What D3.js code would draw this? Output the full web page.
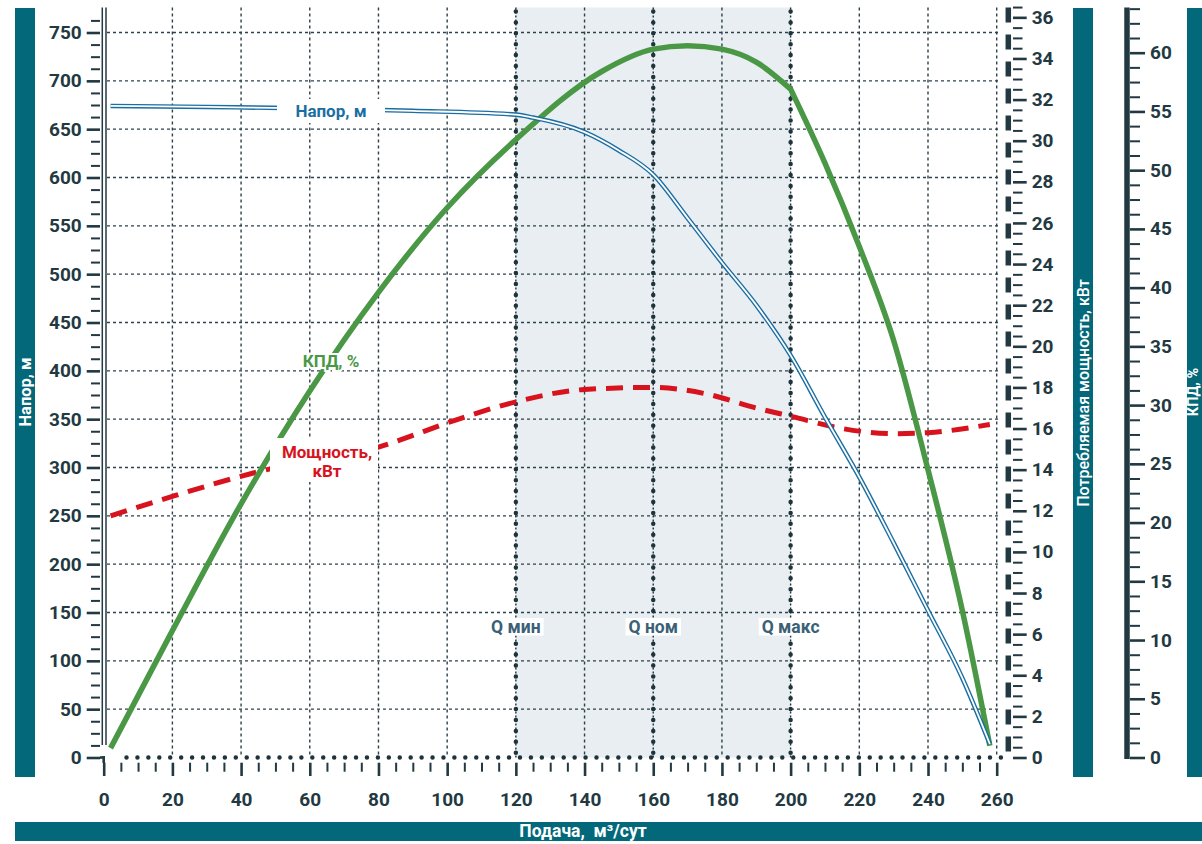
<!DOCTYPE html>
<html>
<head>
<meta charset="utf-8">
<script src="https://cdn.jsdelivr.net/npm/d3@7"></script>
<style>
  body { margin: 0; background: #fff; }
  svg { display: block; font-family: Roboto, "Noto Sans", sans-serif; }
</style>
</head>
<body>
<svg id="chart" width="1202" height="844"></svg>
<script>
// Pump performance curves: head, power and efficiency versus flow rate (m³/day)

// Head curve, m
const headFlow   = [2, 30, 60, 90, 120, 125, 140, 150, 160, 170, 180, 190, 200, 210, 220, 230, 240, 250, 258];
const headValues = [674, 673, 671.5, 669, 665, 662, 647, 628, 603, 558, 512, 468, 416, 352, 290, 222, 152, 82, 14];

// Consumed power, kW
const powerFlow   = [2, 20, 45, 80, 104, 120, 140, 160, 175, 190, 200, 215, 230, 240, 258];
const powerValues = [11.75, 12.7, 13.9, 15.1, 16.5, 17.3, 17.9, 18.0, 17.7, 17.0, 16.6, 16.0, 15.75, 15.8, 16.2];

// Efficiency, %
const effFlow   = [2, 20, 40, 60, 80, 100, 120, 145, 160, 170, 180, 190, 200, 210, 220, 230, 240, 250, 258];
const effValues = [0.8, 10.8, 21.6, 31.2, 39.6, 46.8, 52.6, 58.4, 60.3, 60.6, 60.3, 59.2, 56.9, 50.6, 43.5, 35.5, 24.5, 12.5, 1.0];

// Operating range marks
const qMarks  = [120, 160, 200];
const qLabels = ["Q мин", "Q ном", "Q макс"];

// Tick values
const flowTicks  = d3.range(0, 261, 20);
const headTicks  = d3.range(0, 751, 50);
const powerTicks = d3.range(0, 37, 2);
const effTicks   = d3.range(0, 61, 5);

const TEAL = "#03687a";
const INK = "#223942";
const GRID = "#2e4049";

const svg = d3.select("#chart");

const x  = d3.scaleLinear().domain([0, 260]).range([103.7, 996.7]);
const yH = d3.scaleLinear().domain([0, 750]).range([757.5, 32.5]);
const yP = d3.scaleLinear().domain([0, 36]).range([757.5, 757.5 - 36 * 20.56]);
const yK = d3.scaleLinear().domain([0, 60]).range([757.5, 52.7]);

const TOP = 7.5, BASE = yH(0);

// operating range shading
svg.append("rect")
  .attr("x", x(qMarks[0])).attr("y", TOP)
  .attr("width", x(qMarks[2]) - x(qMarks[0]))
  .attr("height", BASE - TOP)
  .attr("fill", "#e8eef1");

// grid
const grid = svg.append("g").attr("stroke", GRID).attr("stroke-width", 1.4)
  .attr("stroke-dasharray", "3 3").attr("fill", "none");
grid.selectAll("line.h").data(headTicks.filter(d => d > 0)).join("line")
  .attr("x1", 107).attr("x2", 999)
  .attr("y1", d => yH(d)).attr("y2", d => yH(d));
grid.selectAll("line.v").data(flowTicks.filter(d => d > 0 && !qMarks.includes(d))).join("line")
  .attr("x1", d => x(d)).attr("x2", d => x(d))
  .attr("y1", TOP).attr("y2", BASE);

// Q marker lines: fine dotted line with beads
const qg = svg.append("g");
qg.selectAll("line.thin").data(qMarks).join("line")
  .attr("x1", d => x(d)).attr("x2", d => x(d)).attr("y1", TOP).attr("y2", BASE)
  .attr("stroke", "#1f333c").attr("stroke-width", 1.4).attr("stroke-dasharray", "2 2");
qg.selectAll("line.bead").data(qMarks).join("line")
  .attr("x1", d => x(d)).attr("x2", d => x(d)).attr("y1", TOP + 4).attr("y2", BASE)
  .attr("stroke", "#1f333c").attr("stroke-width", 4.5).attr("stroke-linecap", "round")
  .attr("stroke-dasharray", "0 10.9");

// dotted baseline
svg.append("line")
  .attr("x1", 126.5).attr("x2", 1003.5).attr("y1", BASE).attr("y2", BASE)
  .attr("stroke", "#1f333c").attr("stroke-width", 4.5).attr("stroke-linecap", "round")
  .attr("stroke-dasharray", "0 10.93");

// Q labels
qMarks.forEach((q, i) => {
  const t = svg.append("text")
    .attr("x", x(q)).attr("y", 633)
    .attr("text-anchor", "middle")
    .attr("font-size", 17.5).attr("font-weight", 700)
    .attr("fill", "#3a6176")
    .text(qLabels[i]);
  const b = t.node().getBBox();
  svg.insert("rect", () => t.node())
    .attr("x", b.x - 3).attr("y", 618).attr("width", b.width + 6).attr("height", 17.5)
    .attr("fill", "#fff");
});

// curves
const lineHead = d3.line().x(d => x(d[0])).y(d => yH(d[1])).curve(d3.curveMonotoneX);
const linePow  = d3.line().x(d => x(d[0])).y(d => yP(d[1])).curve(d3.curveMonotoneX);
const lineEff  = d3.line().x(d => x(d[0])).y(d => yK(d[1])).curve(d3.curveMonotoneX);

const headPts  = d3.zip(headFlow, headValues);
const powerPts = d3.zip(powerFlow, powerValues);
const effPts   = d3.zip(effFlow, effValues);

// the efficiency curve breaks sharply at Q max: smooth each side separately
const effLeft  = effPts.filter(d => d[0] <= 200);
const effRight = effPts.filter(d => d[0] >= 200);
const effPath  = lineEff(effLeft) + lineEff(effRight).replace(/^M/, "L");

svg.append("path").attr("d", linePow(powerPts))
  .attr("fill", "none").attr("stroke", "#d7131e").attr("stroke-width", 5)
  .attr("stroke-dasharray", "17 10");

svg.append("path").attr("d", effPath)
  .attr("fill", "none").attr("stroke", "#4a9846").attr("stroke-width", 5.5)
  .attr("stroke-linejoin", "round");

svg.append("path").attr("d", lineHead(headPts))
  .attr("fill", "none").attr("stroke", "#1b6ea2").attr("stroke-width", 4.6);
svg.append("path").attr("d", lineHead(headPts))
  .attr("fill", "none").attr("stroke", "#fff").attr("stroke-width", 1.8);

// series labels
function seriesLabel(lines, cx, y0, color, box) {
  if (box) {
    svg.append("rect").attr("x", box[0]).attr("y", box[1]).attr("width", box[2]).attr("height", box[3]).attr("fill", "#fff");
  }
  const t = svg.append("text")
    .attr("text-anchor", "middle")
    .attr("font-size", 17).attr("font-weight", 700).attr("fill", color);
  lines.forEach((s, i) => t.append("tspan").attr("x", cx).attr("y", y0 + i * 19).text(s));
  return t;
}
seriesLabel(["Напор, м"], 331, 117, "#1b6ea2", [277, 99, 108, 24]);
seriesLabel(["КПД, %"], 331, 367, "#4a9846", null)
  .attr("stroke", "#fff").attr("stroke-width", 4).attr("paint-order", "stroke");
seriesLabel(["Мощность,", "кВт"], 327, 458, "#d7131e", [270, 438, 108, 44]);

// axes
function styleAxis(g, w) {
  g.select(".domain").remove();
  g.selectAll(".tick line").attr("stroke", INK).attr("stroke-width", w);
  g.selectAll(".tick text").attr("fill", INK).attr("font-size", 19).attr("font-weight", 700)
    .attr("font-family", "Roboto, 'Noto Sans', sans-serif");
}

// head axis (left)
svg.append("g").attr("transform", "translate(100,0)")
  .call(d3.axisLeft(yH).tickValues(d3.range(0, 763, 12.5).filter(d => d % 50 !== 0)).tickSize(9).tickFormat(""))
  .call(g => styleAxis(g, 2));
svg.append("g").attr("transform", "translate(100,0)")
  .call(d3.axisLeft(yH).tickValues(headTicks).tickSize(13.3).tickPadding(5))
  .call(g => styleAxis(g, 2.6));
svg.append("line").attr("x1", 102.3).attr("x2", 102.3).attr("y1", TOP).attr("y2", 745).attr("stroke", INK).attr("stroke-width", 1.5);
svg.append("line").attr("x1", 106).attr("x2", 106).attr("y1", TOP).attr("y2", 745).attr("stroke", INK).attr("stroke-width", 1.5);
svg.append("line").attr("x1", 100).attr("x2", 105).attr("y1", BASE).attr("y2", BASE).attr("stroke", INK).attr("stroke-width", 2.6);

// flow axis (bottom)
svg.append("g").attr("transform", "translate(0,762.7)")
  .call(d3.axisBottom(x).tickValues(d3.range(0, 261, 5).filter(d => d % 20 !== 0)).tickSize(9).tickFormat(""))
  .call(g => styleAxis(g, 2));
svg.append("g").attr("transform", "translate(0,762.7)")
  .call(d3.axisBottom(x).tickValues(flowTicks).tickSize(13.3).tickPadding(17))
  .call(g => styleAxis(g, 2.6));
svg.append("line").attr("x1", x(0)).attr("x2", x(0)).attr("y1", BASE - 1.3).attr("y2", 763)
  .attr("stroke", INK).attr("stroke-width", 2.6);

// power axis (right, first)
svg.append("line").attr("x1", 1008.3).attr("x2", 1008.3).attr("y1", TOP).attr("y2", 751.5)
  .attr("stroke", INK).attr("stroke-width", 5.5).attr("stroke-dasharray", "15 12");
svg.append("g").attr("transform", "translate(1013,0)")
  .call(d3.axisRight(yP).tickValues(d3.range(0.5, 36.6, 0.5).filter(d => d % 2 !== 0)).tickSize(9.5).tickFormat(""))
  .call(g => styleAxis(g, 2));
svg.append("g").attr("transform", "translate(1013,0)")
  .call(d3.axisRight(yP).tickValues(powerTicks).tickSize(13.7).tickPadding(5))
  .call(g => styleAxis(g, 2.6));

// efficiency axis (right, second)
svg.append("line").attr("x1", 1127).attr("x2", 1127).attr("y1", TOP).attr("y2", 759)
  .attr("stroke", INK).attr("stroke-width", 5.5);
svg.append("g").attr("transform", "translate(1130,0)")
  .call(d3.axisRight(yK).tickValues(d3.range(1.25, 63.8, 1.25).filter(d => d % 5 !== 0)).tickSize(10).tickFormat(""))
  .call(g => styleAxis(g, 2));
svg.append("g").attr("transform", "translate(1130,0)")
  .call(d3.axisRight(yK).tickValues(effTicks).tickSize(15).tickPadding(5))
  .call(g => styleAxis(g, 2.6));

// title bands
svg.append("rect").attr("x", 15).attr("y", 8).attr("width", 20).attr("height", 769).attr("fill", TEAL);
svg.append("rect").attr("x", 1073).attr("y", 8).attr("width", 20).attr("height", 769).attr("fill", TEAL);
svg.append("rect").attr("x", 1187).attr("y", 8).attr("width", 20).attr("height", 769).attr("fill", TEAL);
svg.append("rect").attr("x", 15).attr("y", 822).attr("width", 1187).attr("height", 19).attr("fill", TEAL);

svg.append("text").attr("transform", "translate(31,392) rotate(-90)")
  .attr("text-anchor", "middle").attr("fill", "#fff").attr("font-size", 16.5).attr("font-weight", 700)
  .text("Напор, м");
svg.append("text").attr("transform", "translate(1089,393) rotate(-90)")
  .attr("text-anchor", "middle").attr("fill", "#fff").attr("font-size", 16).attr("font-weight", 500)
  .text("Потребляемая мощность, кВт");
svg.append("text").attr("transform", "translate(1197.5,392) rotate(-90)")
  .attr("text-anchor", "middle").attr("fill", "#fff").attr("font-size", 14.5).attr("font-weight", 700)
  .text("КПД, %");
svg.append("text").attr("x", 583).attr("y", 837)
  .attr("text-anchor", "middle").attr("fill", "#fff").attr("font-size", 17.5).attr("font-weight", 700)
  .attr("xml:space", "preserve")
  .text("Подача,  м³/сут");
</script>
</body>
</html>
